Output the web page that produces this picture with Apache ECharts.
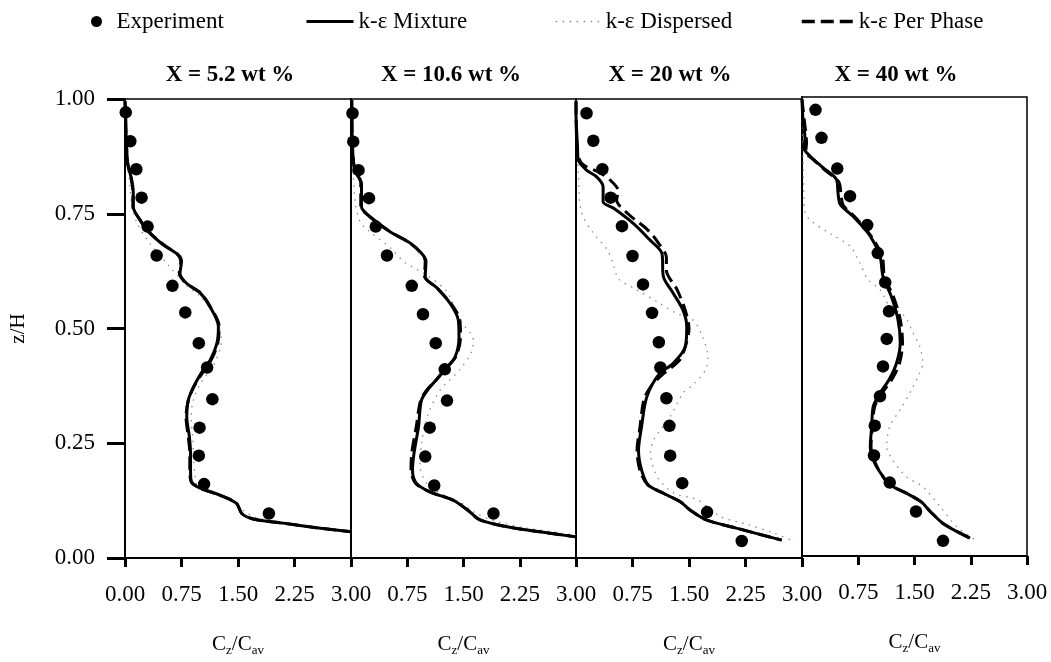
<!DOCTYPE html>
<html>
<head>
<meta charset="utf-8">
<script src="https://cdn.jsdelivr.net/npm/echarts@6/dist/echarts.min.js"></script>
<style>html,body{margin:0;padding:0;background:#fff}#c{width:1051px;height:662px}</style>
</head>
<body>
<div id="c"></div>
<script>
// ---- data ----
const panelTitles = ['X = 5.2 wt %', 'X = 10.6 wt %', 'X = 20 wt %', 'X = 40 wt %'];
const seriesNames = ['Experiment', 'k-\u03b5 Mixture', 'k-\u03b5 Dispersed', 'k-\u03b5 Per Phase'];
const xTickValues = [0, 0.75, 1.5, 2.25, 3];
const yTickValues = [0, 0.25, 0.5, 0.75, 1];

// Panel 1: X = 5.2 wt %   ([Cz/Cav, z/H])
const exp1 = [[0.01,0.971],[0.07,0.908],[0.15,0.847],[0.22,0.785],[0.30,0.722],[0.42,0.659],[0.63,0.593],[0.80,0.535],[0.98,0.468],[1.09,0.415],[1.16,0.346],[0.99,0.284],[0.98,0.223],[1.05,0.161],[1.91,0.097]];
const mix1 = [[0.0,0.995],[0.01,0.96],[0.013,0.932],[0.036,0.86],[0.089,0.824],[0.11,0.795],[0.11,0.765],[0.2,0.736],[0.31,0.711],[0.51,0.682],[0.71,0.66],[0.75,0.646],[0.73,0.62],[0.82,0.598],[1.0,0.577],[1.13,0.547],[1.24,0.504],[1.22,0.468],[1.13,0.431],[1.02,0.405],[0.91,0.373],[0.84,0.344],[0.82,0.308],[0.855,0.264],[0.87,0.228],[0.87,0.192],[0.88,0.166],[1.0,0.152],[1.26,0.137],[1.48,0.119],[1.55,0.097],[1.70,0.085],[2.10,0.076],[2.54,0.066],[3.0,0.057]];
const disp1 = [[0.0,0.995],[0.01,0.93],[0.03,0.86],[0.06,0.82],[0.09,0.77],[0.16,0.73],[0.31,0.69],[0.575,0.638],[0.82,0.594],[1.0,0.57],[1.17,0.533],[1.28,0.475],[1.26,0.454],[1.17,0.418],[1.0,0.38],[0.9,0.34],[0.88,0.30],[0.9,0.26],[0.91,0.22],[0.93,0.18],[0.97,0.154],[1.2,0.138],[1.45,0.122],[1.6,0.1],[1.75,0.088],[2.1,0.077],[2.55,0.067],[3.0,0.058]];
const phase1 = [[0.0,0.995],[0.012,0.93],[0.035,0.86],[0.085,0.824],[0.105,0.795],[0.105,0.765],[0.2,0.737],[0.31,0.712],[0.51,0.683],[0.7,0.661],[0.74,0.647],[0.72,0.621],[0.81,0.599],[1.0,0.578],[1.13,0.548],[1.25,0.504],[1.23,0.467],[1.14,0.43],[1.03,0.404],[0.91,0.372],[0.84,0.343],[0.81,0.307],[0.84,0.264],[0.86,0.228],[0.86,0.192],[0.88,0.166],[1.0,0.152],[1.26,0.137],[1.48,0.119],[1.55,0.097],[1.70,0.085],[2.10,0.076],[2.54,0.066],[3.0,0.057]];

// Panel 2: X = 10.6 wt %
const exp2 = [[0.02,0.969],[0.03,0.907],[0.10,0.845],[0.24,0.784],[0.33,0.722],[0.48,0.659],[0.81,0.593],[0.96,0.531],[1.13,0.468],[1.25,0.411],[1.28,0.343],[1.05,0.284],[0.99,0.221],[1.11,0.158],[1.90,0.097]];
const mix2 = [[0.01,0.998],[0.02,0.896],[0.05,0.845],[0.14,0.816],[0.14,0.765],[0.25,0.744],[0.52,0.711],[0.79,0.686],[0.94,0.664],[1.0,0.646],[0.99,0.613],[1.15,0.588],[1.32,0.555],[1.43,0.519],[1.44,0.482],[1.39,0.439],[1.25,0.41],[1.12,0.385],[1.04,0.37],[0.94,0.344],[0.9,0.286],[0.84,0.228],[0.82,0.192],[0.87,0.163],[1.05,0.144],[1.36,0.126],[1.55,0.105],[1.72,0.083],[2.08,0.068],[2.52,0.057],[3.0,0.046]];
const disp2 = [[0.0,0.995],[0.02,0.9],[0.03,0.84],[0.06,0.77],[0.13,0.73],[0.26,0.71],[0.53,0.675],[0.71,0.645],[1.02,0.615],[1.28,0.58],[1.45,0.519],[1.63,0.475],[1.61,0.45],[1.45,0.41],[1.19,0.366],[1.03,0.314],[0.94,0.25],[0.92,0.2],[1.01,0.163],[1.19,0.141],[1.47,0.12],[1.64,0.1],[1.87,0.083],[2.31,0.066],[3.0,0.05]];
const phase2 = [[0.01,0.998],[0.02,0.896],[0.05,0.846],[0.13,0.817],[0.13,0.766],[0.24,0.745],[0.51,0.712],[0.78,0.687],[0.93,0.665],[0.99,0.647],[0.98,0.614],[1.14,0.589],[1.33,0.555],[1.45,0.519],[1.46,0.482],[1.4,0.439],[1.25,0.41],[1.12,0.385],[1.03,0.37],[0.93,0.344],[0.87,0.286],[0.81,0.228],[0.8,0.192],[0.86,0.163],[1.05,0.144],[1.36,0.126],[1.55,0.105],[1.72,0.083],[2.08,0.068],[2.52,0.057],[3.0,0.046]];

// Panel 3: X = 20 wt %
const exp3 = [[0.14,0.969],[0.23,0.909],[0.35,0.847],[0.46,0.785],[0.61,0.723],[0.75,0.658],[0.89,0.596],[1.01,0.534],[1.10,0.47],[1.12,0.415],[1.20,0.348],[1.24,0.288],[1.25,0.223],[1.41,0.163],[1.74,0.10],[2.20,0.037]];
const mix3 = [[0.0,0.995],[0.0,0.97],[0.02,0.896],[0.03,0.867],[0.14,0.845],[0.27,0.831],[0.36,0.809],[0.36,0.776],[0.5,0.762],[0.76,0.729],[0.98,0.693],[1.14,0.664],[1.16,0.613],[1.29,0.577],[1.42,0.54],[1.47,0.504],[1.45,0.46],[1.29,0.424],[1.1,0.40],[0.94,0.351],[0.87,0.286],[0.83,0.235],[0.87,0.192],[0.96,0.159],[1.16,0.141],[1.38,0.123],[1.51,0.105],[1.73,0.083],[2.13,0.065],[2.73,0.039]];
const disp3 = [[0.0,0.995],[0.01,0.9],[0.03,0.84],[0.07,0.754],[0.22,0.71],[0.42,0.67],[0.5,0.636],[0.57,0.607],[0.79,0.586],[1.1,0.556],[1.32,0.534],[1.55,0.519],[1.68,0.482],[1.75,0.439],[1.72,0.41],[1.55,0.377],[1.42,0.359],[1.25,0.308],[1.03,0.257],[0.99,0.228],[1.08,0.177],[1.3,0.141],[1.61,0.127],[1.92,0.09],[2.28,0.073],[2.63,0.054],[2.91,0.035]];
const phase3 = [[0.0,0.995],[0.01,0.9],[0.04,0.87],[0.11,0.855],[0.31,0.84],[0.45,0.824],[0.56,0.8],[0.54,0.78],[0.69,0.75],[0.95,0.715],[1.09,0.687],[1.2,0.655],[1.2,0.627],[1.34,0.585],[1.45,0.54],[1.5,0.5],[1.45,0.46],[1.37,0.43],[1.15,0.40],[0.99,0.373],[0.9,0.344],[0.85,0.286],[0.81,0.235],[0.85,0.19],[0.95,0.16],[1.16,0.141],[1.38,0.123],[1.51,0.105],[1.73,0.083],[2.13,0.065],[2.73,0.039]];

// Panel 4: X = 40 wt %
const exp4 = [[0.18,0.972],[0.26,0.911],[0.47,0.844],[0.64,0.784],[0.87,0.721],[1.01,0.66],[1.11,0.596],[1.16,0.533],[1.13,0.473],[1.08,0.413],[1.04,0.348],[0.97,0.284],[0.96,0.219],[1.17,0.16],[1.52,0.097],[1.88,0.033]];
const mix4 = [[0.0,0.995],[0.01,0.958],[0.04,0.908],[0.02,0.89],[0.11,0.871],[0.28,0.846],[0.46,0.82],[0.48,0.791],[0.51,0.766],[0.68,0.74],[0.91,0.697],[1.04,0.653],[1.08,0.609],[1.19,0.566],[1.28,0.515],[1.31,0.464],[1.26,0.42],[1.16,0.384],[1.04,0.355],[0.95,0.326],[0.93,0.282],[0.91,0.238],[0.97,0.202],[1.08,0.173],[1.17,0.155],[1.39,0.137],[1.59,0.118],[1.71,0.097],[1.88,0.071],[2.24,0.039]];
const disp4 = [[0.0,0.995],[0.01,0.9],[0.02,0.82],[0.04,0.75],[0.12,0.73],[0.40,0.70],[0.64,0.675],[0.77,0.639],[0.88,0.602],[1.04,0.58],[1.17,0.544],[1.37,0.522],[1.48,0.486],[1.57,0.457],[1.61,0.42],[1.57,0.399],[1.46,0.362],[1.31,0.319],[1.17,0.282],[1.13,0.238],[1.21,0.209],[1.39,0.173],[1.61,0.151],[1.84,0.108],[2.06,0.064],[2.31,0.035]];
const phase4 = [[0.0,0.995],[0.03,0.95],[0.06,0.9],[0.05,0.88],[0.14,0.865],[0.31,0.84],[0.49,0.815],[0.52,0.788],[0.55,0.764],[0.71,0.738],[0.93,0.695],[1.07,0.652],[1.1,0.608],[1.22,0.565],[1.31,0.515],[1.34,0.464],[1.3,0.42],[1.2,0.385],[1.07,0.355],[0.97,0.326],[0.94,0.282],[0.92,0.238],[0.98,0.202],[1.08,0.173],[1.17,0.155],[1.39,0.137],[1.59,0.118],[1.71,0.097],[1.88,0.071],[2.24,0.039]];

const expData = [exp1, exp2, exp3, exp4];
const mixData = [mix1, mix2, mix3, mix4];
const dispData = [disp1, disp2, disp3, disp4];
const phaseData = [phase1, phase2, phase3, phase4];

// ---- layout / style ----
const FONT = '"Liberation Serif", "Times New Roman", serif';
const gridBoxes = [
  {left: 125, top: 99, width: 226, height: 459},
  {left: 351, top: 99, width: 225, height: 459},
  {left: 576, top: 99, width: 226, height: 459},
  {left: 802, top: 97, width: 225, height: 459}
];
const titleCenters = [230, 451, 670, 896];

const chart = echarts.init(document.getElementById('c'), null, {renderer: 'canvas'});

const grids = gridBoxes.map(b => ({
  left: b.left, top: b.top, width: b.width, height: b.height,
  show: true, borderColor: '#000', borderWidth: 1.5, backgroundColor: 'transparent', containLabel: false
}));

const xAxes = gridBoxes.map((b, i) => ({
  gridIndex: i, type: 'value', min: xTickValues[0], max: xTickValues[xTickValues.length - 1],
  interval: xTickValues[1] - xTickValues[0],
  axisLine: {show: true, onZero: false, lineStyle: {color: '#000', width: 2}},
  axisTick: {show: true, inside: false, length: 9, lineStyle: {color: '#000', width: 3}},
  axisLabel: {show: true, margin: 25, fontSize: 23, fontFamily: FONT, color: '#000',
    showMinLabel: i === 0, showMaxLabel: true, formatter: v => v.toFixed(2)},
  splitLine: {show: false},
  name: '{m|C}{s|z}{m|/C}{s|av}', nameLocation: 'middle', nameGap: 73,
  nameTextStyle: {fontFamily: FONT, color: '#000',
    rich: {
      m: {fontSize: 21, fontFamily: FONT, color: '#000', lineHeight: 26},
      s: {fontSize: 13, fontFamily: FONT, color: '#000', lineHeight: 13, verticalAlign: 'bottom'}
    }}
}));

const yAxes = gridBoxes.map((b, i) => ({
  gridIndex: i, type: 'value', min: yTickValues[0], max: yTickValues[yTickValues.length - 1],
  interval: yTickValues[1] - yTickValues[0],
  axisLine: {show: true, onZero: false, lineStyle: {color: '#000', width: 2}},
  axisTick: {show: i === 0, inside: false, length: 18, lineStyle: {color: '#000', width: 3}},
  axisLabel: {show: i === 0, margin: 30, fontSize: 23, fontFamily: FONT, color: '#000', formatter: v => v.toFixed(2)},
  splitLine: {show: false},
  name: i === 0 ? 'z/H' : '', nameLocation: 'middle', nameGap: 96,
  nameTextStyle: {fontSize: 21, fontFamily: FONT, color: '#000'}
}));

const series = [];
for (let i = 0; i < 4; i++) {
  series.push({
    name: seriesNames[2], type: 'line', xAxisIndex: i, yAxisIndex: i, data: dispData[i],
    smooth: 0.3, symbol: 'none', silent: true, z: 2,
    itemStyle: {color: '#8a8a8a'},
    lineStyle: {color: '#8a8a8a', width: 1.3, type: [1.5, 5.5]}
  });
  series.push({
    name: seriesNames[3], type: 'line', xAxisIndex: i, yAxisIndex: i, data: phaseData[i],
    smooth: 0.3, symbol: 'none', silent: true, z: 3,
    itemStyle: {color: '#000'},
    lineStyle: {color: '#000', width: 3, type: [13, 6]}
  });
  series.push({
    name: seriesNames[1], type: 'line', xAxisIndex: i, yAxisIndex: i, data: mixData[i],
    smooth: 0.3, symbol: 'none', silent: true, z: 4,
    itemStyle: {color: '#000'},
    lineStyle: {color: '#000', width: 3, type: 'solid'}
  });
  series.push({
    name: seriesNames[0], type: 'scatter', xAxisIndex: i, yAxisIndex: i, data: expData[i],
    symbol: 'circle', symbolSize: 12.5, silent: true, z: 5,
    itemStyle: {color: '#000', opacity: 1}
  });
}

const legendText = {fontSize: 23, fontFamily: FONT, color: '#000'};
const legends = [
  {name: seriesNames[0], left: 91, itemWidth: 30, itemHeight: 11, line: false, lw: 1},
  {name: seriesNames[1], left: 305, itemWidth: 47, itemHeight: 14, line: true, lw: 3},
  {name: seriesNames[2], left: 555, itemWidth: 45, itemHeight: 14, line: true, lw: 1.3},
  {name: seriesNames[3], left: 800, itemWidth: 52, itemHeight: 14, line: true, lw: 3.5}
].map(l => ({
  data: [l.line ? {name: l.name, itemStyle: {opacity: 0}} : {name: l.name}],
  left: l.left, top: 10, itemWidth: l.itemWidth, itemHeight: l.itemHeight,
  selectedMode: false, textStyle: legendText, padding: 0, itemGap: 0,
  lineStyle: {width: l.lw}
}));

const titles = panelTitles.map((t, i) => ({
  type: 'text', x: titleCenters[i], y: 75,
  style: {text: t, textAlign: 'center', textVerticalAlign: 'middle',
    font: 'bold 23px ' + FONT, fill: '#000'}
}));

chart.setOption({
  animation: false,
  backgroundColor: '#fff',
  grid: grids,
  xAxis: xAxes,
  yAxis: yAxes,
  legend: legends,
  graphic: titles,
  series: series
});
</script>
</body>
</html>
